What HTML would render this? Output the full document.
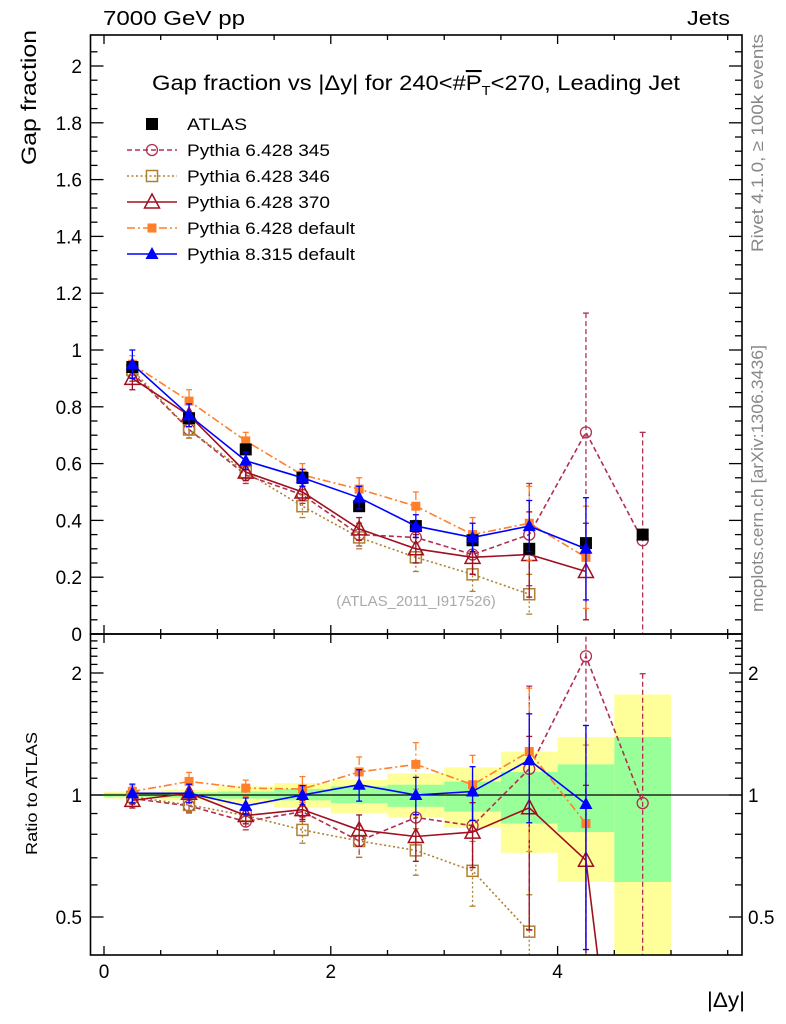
<!DOCTYPE html>
<html><head><meta charset="utf-8"><style>
html,body{margin:0;background:#fff;overflow:hidden;width:786px;height:1024px;}
svg{display:block;font-family:"Liberation Sans",sans-serif;}
</style></head><body>
<svg id="c" width="786" height="1024" viewBox="0 0 786 1024">
<text x="103" y="25" font-size="20" textLength="142" lengthAdjust="spacingAndGlyphs">7000 GeV pp</text>
<text x="687" y="25" font-size="20" textLength="43" lengthAdjust="spacingAndGlyphs">Jets</text>
<text x="152" y="90" font-size="21" textLength="528" lengthAdjust="spacingAndGlyphs">Gap fraction vs |Δy| for 240&lt;#<tspan text-decoration="overline">P</tspan><tspan font-size="13" dy="5">T</tspan><tspan dy="-5">&lt;270, Leading Jet</tspan></text>
<text x="36" y="165" font-size="21" textLength="135" lengthAdjust="spacingAndGlyphs" transform="rotate(-90 36 165)">Gap fraction</text>
<text x="37" y="855" font-size="16" textLength="123" lengthAdjust="spacingAndGlyphs" transform="rotate(-90 37 855)">Ratio to ATLAS</text>
<text x="707" y="1007" font-size="21" textLength="38" lengthAdjust="spacingAndGlyphs">|Δy|</text>
<text x="763" y="252" font-size="17" fill="#888" textLength="218" lengthAdjust="spacingAndGlyphs" transform="rotate(-90 763 252)">Rivet 4.1.0, ≥ 100k events</text>
<text x="763" y="612" font-size="17" fill="#888" textLength="267" lengthAdjust="spacingAndGlyphs" transform="rotate(-90 763 612)">mcplots.cern.ch [arXiv:1306.3436]</text>
<text x="416" y="606" font-size="15" fill="#aaa" text-anchor="middle">(ATLAS_2011_I917526)</text>
<g id="g"></g>
</svg>
<script>
const xs=[0.25,0.75,1.25,1.75,2.25,2.75,3.25,3.75,4.25,4.75];
const atlasVal=[0.94,0.76,0.65,0.55,0.45,0.38,0.33,0.30,0.32,0.35];
const bandStatHi=[1.01,1.015,1.02,1.035,1.05,1.06,1.08,1.14,1.19,1.39];
const bandStatLo=[0.99,0.985,0.98,0.97,0.955,0.935,0.91,0.85,0.81,0.61];
const bandTotHi=[1.02,1.03,1.05,1.07,1.09,1.13,1.17,1.28,1.39,1.77];
const bandTotLo=[0.98,0.97,0.95,0.93,0.90,0.88,0.83,0.72,0.61,0.3];
const p345Val=[0.92,0.72,0.56,0.49,0.35,0.34,0.28,0.35,0.71,0.33];
const p345Err=[0.03,0.03,0.03,0.03,0.04,0.05,0.07,0.18,0.42,0.38];
const p345Ratio=[0.98,0.94,0.86,0.91,0.77,0.88,0.84,1.16,2.2,0.955];
const p346Val=[0.93,0.72,0.57,0.45,0.34,0.27,0.21,0.14];
const p346Err=[0.03,0.03,0.03,0.04,0.04,0.05,0.06,0.07];
const p346Ratio=[0.99,0.945,0.89,0.82,0.77,0.73,0.65,0.46];
const p370Val=[0.90,0.77,0.57,0.50,0.37,0.30,0.27,0.28,0.22];
const p370Err=[0.04,0.04,0.03,0.03,0.04,0.05,0.06,0.15,0.17];
const p370Ratio=[0.97,1.01,0.89,0.92,0.82,0.79,0.81,0.93,0.69,0.05];
const defVal=[0.95,0.82,0.68,0.56,0.51,0.45,0.35,0.39,0.27];
const defErr=[0.03,0.04,0.03,0.04,0.04,0.05,0.06,0.13,0.18];
const defRatio=[1.02,1.08,1.04,1.035,1.14,1.19,1.06,1.28,0.85];
const p8Val=[0.95,0.77,0.61,0.55,0.48,0.38,0.34,0.38,0.30];
const p8Err=[0.05,0.04,0.03,0.03,0.04,0.04,0.05,0.09,0.18];
const p8Ratio=[1.01,1.01,0.94,1.0,1.06,1.0,1.02,1.22,0.95];
const mainTicks=[0,0.2,0.4,0.6,0.8,1,1.2,1.4,1.6,1.8,2];
const ratioTicks=[0.5,1,2];

const NS="http://www.w3.org/2000/svg";
const G=document.getElementById('g');
const L=90.5,R=742,MT=35,MB=634,RT=634,RB=955;
const X=v=>104+113.4*v;
const Y=v=>634-284*v;
const YR=v=>795-122*Math.log2(v);
function mk(t,a,p){const e=document.createElementNS(NS,t);for(const k in a)e.setAttribute(k,a[k]);(p||G).appendChild(e);return e;}
const defs=mk('defs',{});
const c1=mk('clipPath',{id:'cm'},defs);mk('rect',{x:L,y:MT,width:R-L,height:MB-MT},c1);
const c2=mk('clipPath',{id:'cr'},defs);mk('rect',{x:L,y:RT,width:R-L,height:RB-RT},c2);
const gm=mk('g',{'clip-path':'url(#cm)'});
const gr=mk('g',{'clip-path':'url(#cr)'});
xs.forEach((x,i)=>{
 const b=mk('rect',{x:X(x-0.25),y:YR(bandTotHi[i]),width:113.4/2,height:YR(bandTotLo[i])-YR(bandTotHi[i]),fill:'#ffff99'},gr);
 
 
 const s=mk('rect',{x:X(x-0.25),y:YR(bandStatHi[i]),width:113.4/2,height:YR(bandStatLo[i])-YR(bandStatHi[i]),fill:'#99ff99'},gr);
 
 
});
mk('line',{x1:L,y1:YR(1),x2:R,y2:YR(1),stroke:'#000','stroke-width':1.3},gr);
function marker(p,x,y,m,col){
 const s=6;
 if(m==='fsq')return mk('rect',{x:x-s,y:y-s,width:2*s,height:2*s,fill:col},p);
 if(m==='fsqs')return mk('rect',{x:x-4.5,y:y-4.5,width:9,height:9,fill:col},p);
 if(m==='osq')return mk('rect',{x:x-5.5,y:y-5.5,width:11,height:11,fill:'none',stroke:col,'stroke-width':1.5},p);
 if(m==='oc')return mk('circle',{cx:x,cy:y,r:5.5,fill:'none',stroke:col,'stroke-width':1.3},p);
 if(m==='otri')return mk('polygon',{points:`${x},${y-8} ${x-7.5},${y+6} ${x+7.5},${y+6}`,fill:'none',stroke:col,'stroke-width':1.5},p);
 if(m==='ftri')return mk('polygon',{points:`${x},${y-7} ${x-6.5},${y+5} ${x+6.5},${y+5}`,fill:col},p);
}
function errbar(p,x,yt,yb,col,dash){
 mk('line',{x1:x,x2:x,y1:yt,y2:yb,stroke:col,'stroke-width':1.3,'stroke-dasharray':dash},p);
 mk('line',{x1:x-3,x2:x+3,y1:yt,y2:yt,stroke:col,'stroke-width':1.3},p);
 mk('line',{x1:x-3,x2:x+3,y1:yb,y2:yb,stroke:col,'stroke-width':1.3},p);
}
function series(name,vals,errs,rat,col,dash,m){
 const pm=vals.map((v,i)=>X(xs[i])+','+Y(v));
 const pr=rat.map((v,i)=>X(xs[i])+','+YR(v));
 [[gm,pm],[gr,pr]].forEach(([p,pts])=>{
  const pl=mk('polyline',{points:pts.join(' '),fill:'none',stroke:col,'stroke-width':1.6,'stroke-dasharray':dash},p);
  
  
 });
 vals.forEach((v,i)=>{
  const x=X(xs[i]);
  errbar(gm,x,Y(v+errs[i]),Y(v-errs[i]),col,dash);
  const a=marker(gm,x,Y(v),m,col);
  
  
 });
 rat.forEach((r,i)=>{
  const x=X(xs[i]);
  if(i<errs.length){
   const re=r*errs[i]/atlasVal[i];
   errbar(gr,x,YR(r+re),YR(Math.max(r-re,0.01)),col,dash);
  }
  const b=marker(gr,x,YR(r),m,col);
  
  
 });
}
series('pythia6-345',p345Val,p345Err,p345Ratio,'#b03050','5,3','oc');
series('pythia6-346',p346Val,p346Err,p346Ratio,'#b08030','2,2.5','osq');
series('pythia6-370',p370Val,p370Err,p370Ratio,'#a01020','','otri');
series('pythia6-default',defVal,defErr,defRatio,'#ff7f2a','8,3,2,3','fsqs');
atlasVal.forEach((v,i)=>{
 const x=X(xs[i]);
 const a=marker(gm,x,Y(v),'fsq','#000');
 
 
});
series('pythia8-default',p8Val,p8Err,p8Ratio,'#0000ff','','ftri');
[[MT,MB],[RT,RB]].forEach(([t,b])=>{
 const f=mk('rect',{x:L,y:t,width:R-L,height:b-t,fill:'none',stroke:'#000','stroke-width':1.6});
 
 
 for(let v=0;v<=5.5;v+=0.5){const x=X(v);const len=(v%2===0)?9:5;
  mk('line',{x1:x,x2:x,y1:b,y2:b-len,stroke:'#000','stroke-width':1.3});
  mk('line',{x1:x,x2:x,y1:t,y2:t+len,stroke:'#000','stroke-width':1.3});}
});
for(let v=0;v<=2.1;v+=0.05){const y=Y(v);if(y<MT)break;const maj=Math.abs(v*5-Math.round(v*5))<1e-6;const len=maj?13:7;
 mk('line',{x1:L,x2:L+len,y1:y,y2:y,stroke:'#000','stroke-width':1.3});
 mk('line',{x1:R,x2:R-len,y1:y,y2:y,stroke:'#000','stroke-width':1.3});}
mainTicks.forEach(v=>{const t=mk('text',{x:82,y:Y(v)+7,'font-size':19,'text-anchor':'end'});t.textContent=String(v);
 });
for(let v=0.4;v<=2.5;v+=0.1){const y=YR(v);if(y<RT||y>RB)continue;const maj=[0.5,1,2].some(m=>Math.abs(m-v)<1e-6);const len=maj?13:7;
 mk('line',{x1:L,x2:L+len,y1:y,y2:y,stroke:'#000','stroke-width':1.3});
 mk('line',{x1:R,x2:R-len,y1:y,y2:y,stroke:'#000','stroke-width':1.3});}
ratioTicks.forEach(v=>{
 const t=mk('text',{x:82,y:YR(v)+7,'font-size':19,'text-anchor':'end'});t.textContent=String(v);
 
 const t2=mk('text',{x:748,y:YR(v)+7,'font-size':19});t2.textContent=String(v);
 
});
[0,2,4].forEach(v=>{const t=mk('text',{x:X(v),y:978,'font-size':19,'text-anchor':'middle'});t.textContent=String(v);
 });
const leg=[['ATLAS','#000','','fsq',60],['Pythia 6.428 345','#b03050','5,3','oc',143],['Pythia 6.428 346','#b08030','2,2.5','osq',143],['Pythia 6.428 370','#a01020','','otri',143],['Pythia 6.428 default','#ff7f2a','8,3,2,3','fsqs',168],['Pythia 8.315 default','#0000ff','','ftri',168]];
leg.forEach((e,i)=>{
 const y=124+26*i;
 const g=mk('g',{});
 
 
 if(i>0)mk('line',{x1:127,x2:177,y1:y,y2:y,stroke:e[1],'stroke-width':1.4,'stroke-dasharray':e[2]},g);
 marker(g,152,y,e[3],e[1]);
 const t=mk('text',{x:187,y:y+6,'font-size':17,textLength:e[4],lengthAdjust:'spacingAndGlyphs'},g);t.textContent=e[0];
});
</script>
</body></html>
